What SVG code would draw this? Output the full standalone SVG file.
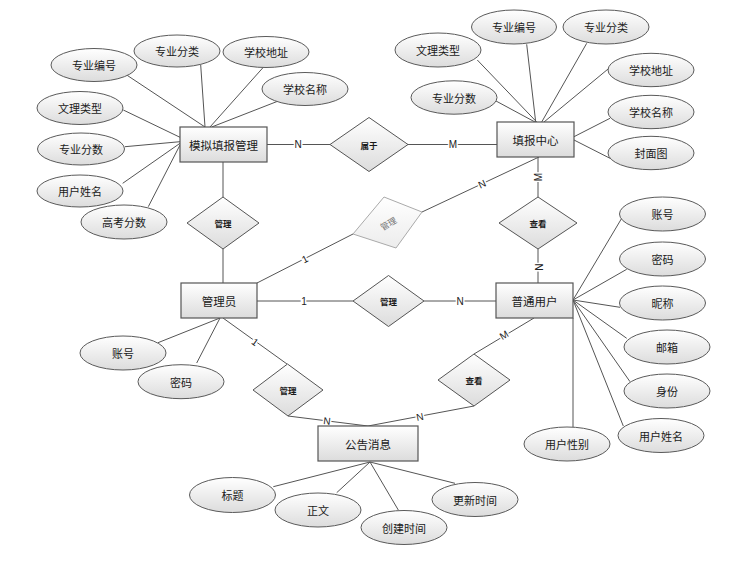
<svg xmlns="http://www.w3.org/2000/svg" width="741" height="570" viewBox="0 0 741 570">
<defs>
<linearGradient id="g" x1="0" y1="0" x2="0" y2="1">
<stop offset="0" stop-color="#ffffff"/>
<stop offset="1" stop-color="#dcdcdc"/>
</linearGradient>
<linearGradient id="gl" x1="0" y1="0" x2="0" y2="1">
<stop offset="0" stop-color="#ffffff"/>
<stop offset="1" stop-color="#ececec"/>
</linearGradient>
</defs>
<style>
.e{fill:url(#g);stroke:#5a5a5a;stroke-width:1}
.r{fill:url(#g);stroke:#555;stroke-width:1.2}
.d{fill:url(#g);stroke:#555;stroke-width:1}
.dg{fill:url(#gl);stroke:#aaa;stroke-width:1}
.t{font-family:"Noto Sans CJK SC","Liberation Sans",sans-serif;font-size:11px;fill:#1a1a1a;text-anchor:middle;dominant-baseline:central}
.tr{font-family:"Noto Sans CJK SC","Liberation Sans",sans-serif;font-size:11.5px;fill:#1a1a1a;text-anchor:middle;dominant-baseline:central}
.td{font-family:"Noto Sans CJK SC","Liberation Sans",sans-serif;font-size:8.5px;font-weight:bold;fill:#1a1a1a;text-anchor:middle;dominant-baseline:central}
.l{font-family:"Liberation Sans",sans-serif;font-size:10px;fill:#222;text-anchor:middle;dominant-baseline:central;stroke:#fff;stroke-width:3;paint-order:stroke}
.c line{stroke:#555;stroke-width:1}
</style>
<rect width="741" height="570" fill="#fff"/>
<g id="connectors" class="c">
<line x1="126.7" y1="75" x2="205" y2="127"/>
<line x1="200.7" y1="65" x2="205" y2="127"/>
<line x1="263.3" y1="67.3" x2="210" y2="127"/>
<line x1="278.3" y1="101" x2="211.7" y2="127"/>
<line x1="123.3" y1="110" x2="180" y2="137.3"/>
<line x1="125" y1="146.7" x2="180" y2="141.7"/>
<line x1="122.7" y1="183.3" x2="180" y2="143.3"/>
<line x1="148.3" y1="206.7" x2="180" y2="145"/>
<line x1="477.3" y1="60" x2="536.7" y2="122"/>
<line x1="526.7" y1="44.3" x2="535.7" y2="122"/>
<line x1="586.7" y1="43.3" x2="541.7" y2="122"/>
<line x1="611.7" y1="66" x2="544" y2="122"/>
<line x1="496" y1="101" x2="535" y2="122"/>
<line x1="610" y1="118.3" x2="574" y2="136.7"/>
<line x1="610" y1="158.3" x2="574" y2="140"/>
<line x1="621.7" y1="218.3" x2="573" y2="300"/>
<line x1="626.7" y1="269.3" x2="573" y2="300"/>
<line x1="620" y1="307.3" x2="573" y2="300"/>
<line x1="626.7" y1="338.3" x2="573" y2="300"/>
<line x1="630" y1="381.7" x2="573" y2="300"/>
<line x1="623.3" y1="426" x2="573" y2="300"/>
<line x1="573" y1="318" x2="573" y2="427"/>
<line x1="158" y1="342.7" x2="220" y2="318"/>
<line x1="196.7" y1="363" x2="220" y2="318"/>
<line x1="273.3" y1="486.7" x2="370" y2="462"/>
<line x1="336.7" y1="492.7" x2="370" y2="462"/>
<line x1="398.3" y1="510" x2="370" y2="462"/>
<line x1="455" y1="483.3" x2="370" y2="462"/>
<line x1="267" y1="144.5" x2="330" y2="144.5"/>
<line x1="407" y1="144.5" x2="497" y2="144.5"/>
<line x1="538" y1="157" x2="538" y2="197"/>
<line x1="538" y1="249" x2="538" y2="283"/>
<line x1="223" y1="162" x2="223" y2="197"/>
<line x1="223" y1="249" x2="223" y2="283"/>
<line x1="257" y1="283" x2="353" y2="234"/>
<line x1="422" y1="212" x2="539" y2="157"/>
<line x1="257" y1="301" x2="353" y2="301"/>
<line x1="424" y1="301" x2="496" y2="301"/>
<line x1="223" y1="318" x2="287" y2="364"/>
<line x1="288" y1="416" x2="368" y2="426"/>
<line x1="474" y1="406" x2="368" y2="426"/>
<line x1="534" y1="318" x2="474" y2="354"/>
<text class="l" x="298" y="144.5">N</text>
<text class="l" x="453" y="144.5">M</text>
<text class="l" transform="translate(538,177) rotate(-90)">M</text>
<text class="l" transform="translate(538,267) rotate(90)">N</text>
<text class="l" transform="translate(305,259) rotate(-27)">1</text>
<text class="l" transform="translate(482,184) rotate(-25)">N</text>
<text class="l" x="304" y="301">1</text>
<text class="l" x="460" y="301">N</text>
<text class="l" transform="translate(255,342) rotate(36)">1</text>
<text class="l" transform="translate(327,421) rotate(7)">N</text>
<text class="l" transform="translate(420,417) rotate(-11)">N</text>
<text class="l" transform="translate(504,335) rotate(-31)">M</text>
</g>
<g id="attr-mn-zybh"><ellipse class="e" cx="94" cy="65" rx="43" ry="16.5"/><text class="t" x="94" y="65">专业编号</text></g>
<g id="attr-mn-zyfl"><ellipse class="e" cx="177" cy="51" rx="43" ry="16"/><text class="t" x="177" y="51">专业分类</text></g>
<g id="attr-mn-xxdz"><ellipse class="e" cx="266" cy="52" rx="43" ry="15.5"/><text class="t" x="266" y="52">学校地址</text></g>
<g id="attr-mn-xxmc"><ellipse class="e" cx="305" cy="89" rx="43" ry="16.5"/><text class="t" x="305" y="89">学校名称</text></g>
<g id="attr-mn-wllx"><ellipse class="e" cx="80" cy="108" rx="43" ry="16.5"/><text class="t" x="80" y="108">文理类型</text></g>
<g id="attr-mn-zyfs"><ellipse class="e" cx="81" cy="149" rx="43.5" ry="16"/><text class="t" x="81" y="149">专业分数</text></g>
<g id="attr-mn-yhxm"><ellipse class="e" cx="80" cy="191" rx="43" ry="16"/><text class="t" x="80" y="191">用户姓名</text></g>
<g id="attr-mn-gkfs"><ellipse class="e" cx="124" cy="222" rx="43" ry="17"/><text class="t" x="124" y="222">高考分数</text></g>
<g id="attr-tb-zybh"><ellipse class="e" cx="514" cy="27" rx="42.5" ry="17"/><text class="t" x="514" y="27">专业编号</text></g>
<g id="attr-tb-zyfl"><ellipse class="e" cx="606" cy="27" rx="43" ry="17"/><text class="t" x="606" y="27">专业分类</text></g>
<g id="attr-tb-wllx"><ellipse class="e" cx="438" cy="50" rx="43" ry="17"/><text class="t" x="438" y="50">文理类型</text></g>
<g id="attr-tb-xxdz"><ellipse class="e" cx="651" cy="70" rx="43" ry="16.7"/><text class="t" x="651" y="70">学校地址</text></g>
<g id="attr-tb-zyfs"><ellipse class="e" cx="454" cy="97.5" rx="43" ry="16.7"/><text class="t" x="454" y="97.5">专业分数</text></g>
<g id="attr-tb-xxmc"><ellipse class="e" cx="651" cy="112" rx="43" ry="16.7"/><text class="t" x="651" y="112">学校名称</text></g>
<g id="attr-tb-fmt"><ellipse class="e" cx="651" cy="153" rx="43" ry="16.7"/><text class="t" x="651" y="153">封面图</text></g>
<g id="attr-u-zh"><ellipse class="e" cx="662.5" cy="214" rx="43" ry="17"/><text class="t" x="662.5" y="214">账号</text></g>
<g id="attr-u-mm"><ellipse class="e" cx="662.5" cy="259" rx="43" ry="17"/><text class="t" x="662.5" y="259">密码</text></g>
<g id="attr-u-nc"><ellipse class="e" cx="662.5" cy="303" rx="43" ry="17"/><text class="t" x="662.5" y="303">昵称</text></g>
<g id="attr-u-yx"><ellipse class="e" cx="667" cy="347" rx="43" ry="17"/><text class="t" x="667" y="347">邮箱</text></g>
<g id="attr-u-sf"><ellipse class="e" cx="667" cy="391" rx="43" ry="17"/><text class="t" x="667" y="391">身份</text></g>
<g id="attr-u-yhxm"><ellipse class="e" cx="661" cy="435.5" rx="43" ry="17"/><text class="t" x="661" y="435.5">用户姓名</text></g>
<g id="attr-u-yhxb"><ellipse class="e" cx="567" cy="444" rx="43" ry="17"/><text class="t" x="567" y="444">用户性别</text></g>
<g id="attr-a-zh"><ellipse class="e" cx="123" cy="353" rx="43" ry="17"/><text class="t" x="123" y="353">账号</text></g>
<g id="attr-a-mm"><ellipse class="e" cx="181" cy="381.7" rx="43" ry="17"/><text class="t" x="181" y="381.7">密码</text></g>
<g id="attr-n-bt"><ellipse class="e" cx="232.5" cy="495" rx="43" ry="17.5"/><text class="t" x="232.5" y="495">标题</text></g>
<g id="attr-n-zw"><ellipse class="e" cx="318" cy="510" rx="43" ry="17"/><text class="t" x="318" y="510">正文</text></g>
<g id="attr-n-cjsj"><ellipse class="e" cx="404" cy="527.5" rx="43" ry="17"/><text class="t" x="404" y="527.5">创建时间</text></g>
<g id="attr-n-gxsj"><ellipse class="e" cx="475" cy="499.5" rx="43" ry="17"/><text class="t" x="475" y="499.5">更新时间</text></g>
<g id="ent-mntb"><rect class="r" x="180" y="127" width="87" height="35"/><text class="tr" x="223.5" y="144.5">模拟填报管理</text></g>
<g id="ent-tbzx"><rect class="r" x="497" y="122" width="77" height="35"/><text class="tr" x="535.5" y="139.5">填报中心</text></g>
<g id="ent-gly"><rect class="r" x="181" y="283" width="76" height="35"/><text class="tr" x="219" y="300.5">管理员</text></g>
<g id="ent-ptyh"><rect class="r" x="496" y="283" width="77" height="35"/><text class="tr" x="534.5" y="300.5">普通用户</text></g>
<g id="ent-ggxx"><rect class="r" x="318" y="426" width="100" height="35"/><text class="tr" x="368" y="443.5">公告消息</text></g>
<g id="rel-sy"><polygon class="d" points="330,144.5 369,117.5 408,144.5 369,171.5"/><text class="td" x="369" y="144.5">属于</text></g>
<g id="rel-gl1"><polygon class="d" points="187,223 223,197 259,223 223,249"/><text class="td" x="223" y="223">管理</text></g>
<g id="rel-gl2"><polygon class="dg" points="353,234 384,197 422,212 396,248"/><text class="td" style="fill:#777;font-weight:normal" transform="translate(388,223) rotate(-30)">管理</text></g>
<g id="rel-ck1"><polygon class="d" points="499,223 538,197 577,223 538,249"/><text class="td" x="538" y="223">查看</text></g>
<g id="rel-gl3"><polygon class="d" points="353,301 388.5,275.5 424,301 388.5,326.5"/><text class="td" x="388.5" y="301">管理</text></g>
<g id="rel-gl4"><polygon class="d" points="253,390 287.5,364 323,390 288,416"/><text class="td" x="288" y="390">管理</text></g>
<g id="rel-ck2"><polygon class="d" points="438,380 474,354 510,380 474,406"/><text class="td" x="474" y="380">查看</text></g>
</svg>
